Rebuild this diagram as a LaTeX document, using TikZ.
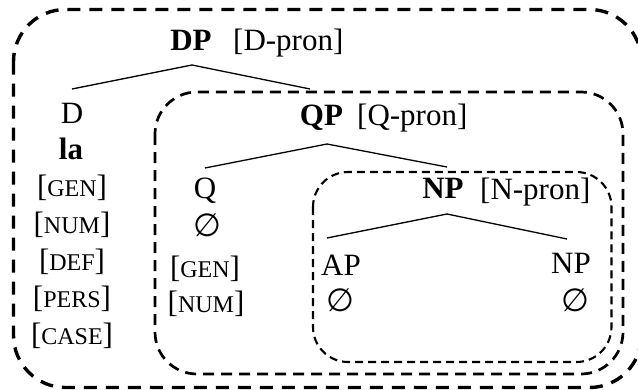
\documentclass[tikz,border=0pt]{standalone}
\usepackage{fontspec}
\setmainfont{Liberation Serif}
\newfontfamily\symfont{DejaVu Sans}
% small capitals for feature names
\newcommand\smc[1]{{\fontsize{24}{24}\selectfont #1}}
% null element
\newcommand\nul{{\symfont\fontsize{32}{32}\selectfont ∅}}

\begin{document}
\begin{tikzpicture}[x=1pt,y=-1pt,
  lab/.style={inner sep=0pt, anchor=base, font=\fontsize{31}{36}\selectfont},
  feat/.style={lab, anchor=base west},
  branch/.style={line width=1.3pt},
  outerbox/.style={line width=3.4pt, dash pattern=on 13pt off 9pt, rounded corners=52pt},
  midbox/.style={line width=2.7pt, dash pattern=on 11pt off 7pt, rounded corners=42pt},
  innerbox/.style={line width=2.1pt, dash pattern=on 8pt off 5pt, rounded corners=35pt}]
\useasboundingbox (0,0) rectangle (638,389);
\clip (0,0) rectangle (638,389);

% nested domains
\draw[outerbox] (13.5,9.5) rectangle (641.5,387.5);
\draw[midbox] (155,92) rectangle (623,374);
\draw[innerbox] (313,172) rectangle (611.5,362);

% DP level
\node[lab] (dp) at (191,50) {\textbf{DP}};
\node[feat] (dpf) at (233,50) {[D-pron]};
\node[lab] (d) at (72,123) {D};
\node[lab] (la) at (71,159) {\textbf{la}};
\node[lab] (dgen) at (72,196) {[\smc{GEN}]};
\node[lab] (dnum) at (72,233) {[\smc{NUM}]};
\node[lab] (ddef) at (72,270) {[\smc{DEF}]};
\node[lab] (dpers) at (72,307) {[\smc{PERS}]};
\node[lab] (dcase) at (72,344) {[\smc{CASE}]};

% QP level
\node[lab] (qp) at (321.5,125) {\textbf{QP}};
\node[feat] (qpf) at (357,125) {[Q-pron]};
\node[lab] (q) at (205,198) {Q};
\node[lab] (qnul) at (207,236) {\nul};
\node[lab] (qgen) at (205,277) {[\smc{GEN}]};
\node[lab] (qnum) at (206,312) {[\smc{NUM}]};

% NP level
\node[lab] (np) at (443,198) {\textbf{NP}};
\node[feat] (npf) at (480,199) {[N-pron]};
\node[lab] (ap) at (341,275) {AP};
\node[lab] (apnul) at (340,311) {\nul};
\node[lab] (nn) at (571,273) {NP};
\node[lab] (nnnul) at (575,311) {\nul};

% branch points
\coordinate (dp-top) at (192,65);
\coordinate (d-end) at (72,89);
\coordinate (qp-end) at (310,89);
\coordinate (qp-top) at (327,144);
\coordinate (q-end) at (205,168);
\coordinate (np-end) at (447,167);
\coordinate (np-top) at (447,214);
\coordinate (ap-end) at (327,238);
\coordinate (nn-end) at (567,239);

\draw[branch] (d-end) -- (dp-top) -- (qp-end);
\draw[branch] (q-end) -- (qp-top) -- (np-end);
\draw[branch] (ap-end) -- (np-top) -- (nn-end);
\end{tikzpicture}
\end{document}
